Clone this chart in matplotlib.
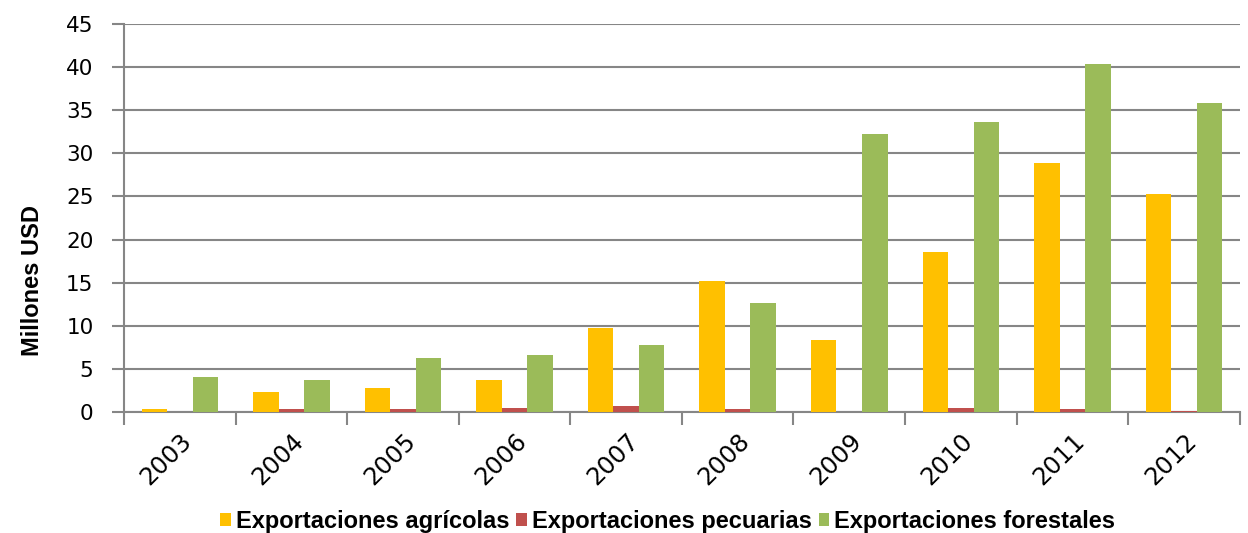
import numpy as np
import matplotlib.pyplot as plt

plt.rcParams['font.family'] = ['Liberation Sans', 'DejaVu Sans']

# data
years = ['2003', '2004', '2005', '2006', '2007', '2008', '2009', '2010', '2011', '2012']
agricolas = [0.4, 2.3, 2.8, 3.7, 9.7, 15.2, 8.3, 18.6, 28.9, 25.3]
pecuarias = [0.0, 0.3, 0.4, 0.5, 0.7, 0.35, 0.0, 0.45, 0.35, 0.1]
forestales = [4.1, 3.7, 6.3, 6.6, 7.8, 12.7, 32.2, 33.6, 40.4, 35.8]

fig = plt.figure(figsize=(12.48, 5.33), dpi=100)
ax = fig.add_axes([0.0994, 0.227, 0.894, 0.728])

x = np.arange(len(years))
w = 0.229
ax.bar(x - w, agricolas, w, color='#FFC000', label='Exportaciones agrícolas', zorder=3)
ax.bar(x, pecuarias, w, color='#C0504D', label='Exportaciones pecuarias', zorder=3)
ax.bar(x + w, forestales, w, color='#9BBB59', label='Exportaciones forestales', zorder=3)

ax.set_xlim(-0.5, len(years) - 0.5)
ax.set_ylim(0, 45)
ax.set_yticks(np.arange(0, 46, 5))
ax.yaxis.grid(True, color='#868686', linewidth=1.5, zorder=0)

ax.set_xticks(x)
ax.set_xticklabels(years, rotation=45, ha='right', rotation_mode='anchor',
                   fontsize=17.5, family='DejaVu Sans')
ax.tick_params(axis='x', length=0, pad=12)
ax.set_xticks(np.arange(-0.5, len(years)), minor=True)
ax.tick_params(axis='x', which='minor', length=9, width=1.5, color='#868686', direction='out')
ax.tick_params(axis='y', length=9, width=1.5, color='#868686', pad=13)
for lab in ax.get_yticklabels():
    lab.set_fontsize(15.5)
    lab.set_family('DejaVu Sans')

for s in ['top', 'right']:
    ax.spines[s].set_visible(False)
for s in ['left', 'bottom']:
    ax.spines[s].set_color('#868686')
    ax.spines[s].set_linewidth(1.5)

ax.set_ylabel('Millones USD', fontsize=17, fontweight='bold')
ax.yaxis.set_label_coords(-0.0717, 0.338)

fig.legend(loc='center', bbox_to_anchor=(0.535, 0.022), ncol=3, frameon=False,
           prop={'weight': 'bold', 'size': 17}, handlelength=0.45, handleheight=0.45,
           handletextpad=0.2, columnspacing=0.3)

plt.savefig('out.png', dpi=100)
